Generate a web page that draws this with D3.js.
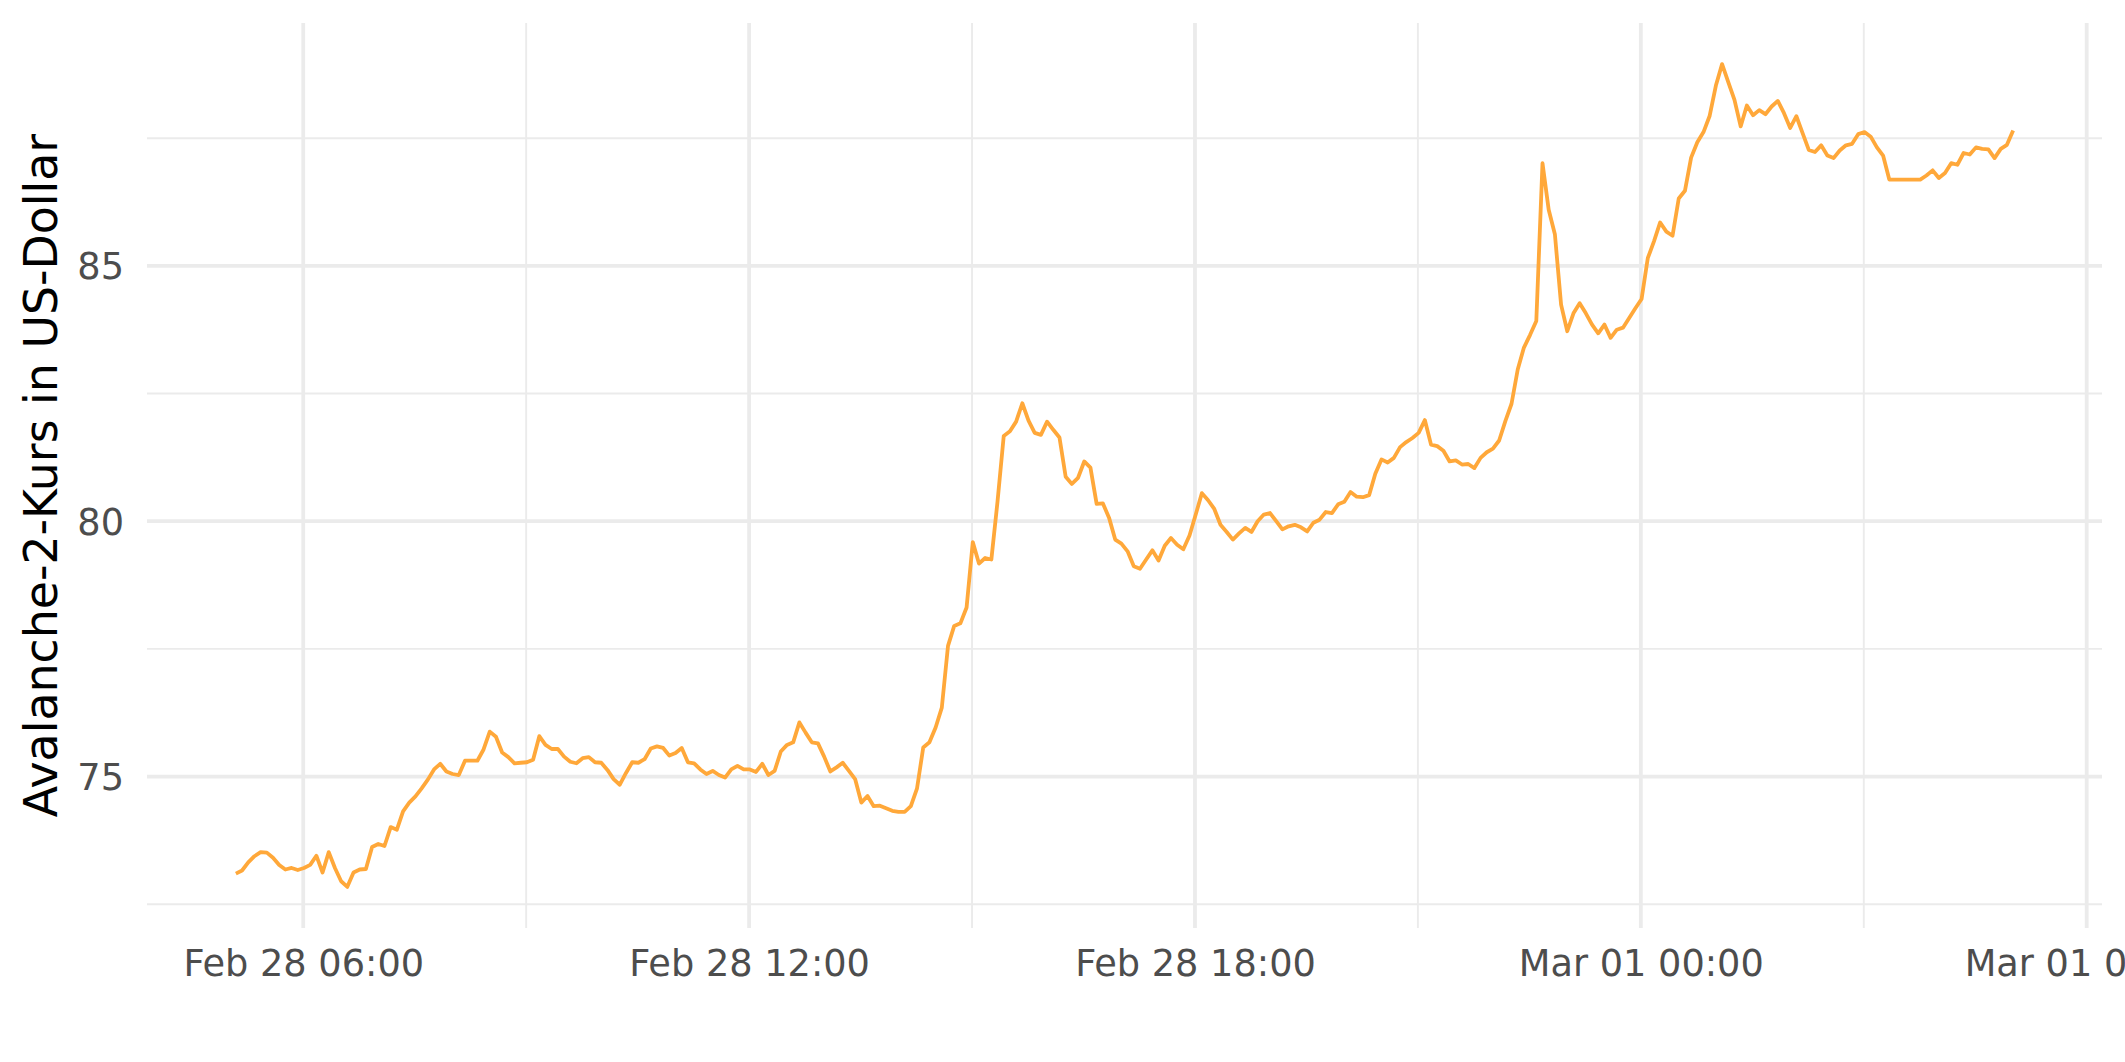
<!DOCTYPE html>
<html>
<head>
<meta charset="utf-8">
<script src="https://cdn.jsdelivr.net/npm/d3@7"></script>
<style>
  html, body { margin: 0; padding: 0; background: #ffffff; }
  svg { display: block; }
</style>
</head>
<body>
<svg id="chart" width="2125" height="1062"></svg>
<script>
// ---------------- data ----------------
const startTime = new Date(2022, 1, 28, 5, 5, 36);   // first observation (Feb 28, 05:05)
const stepMinutes = 5;                                // 5-minute price series
const prices = [
  73.10, 73.16, 73.32, 73.44, 73.52, 73.51, 73.41, 73.27, 73.18, 73.21,
  73.17, 73.21, 73.27, 73.45, 73.12, 73.52, 73.21, 72.95, 72.84, 73.12,
  73.18, 73.19, 73.62, 73.68, 73.64, 74.01, 73.96, 74.32, 74.49, 74.61,
  74.77, 74.94, 75.14, 75.25, 75.10, 75.05, 75.03, 75.31, 75.31, 75.31,
  75.53, 75.88, 75.78, 75.47, 75.38, 75.26, 75.27, 75.28, 75.33, 75.79,
  75.62, 75.54, 75.54, 75.39, 75.29, 75.26, 75.36, 75.38, 75.28, 75.27,
  75.13, 74.95, 74.84, 75.07, 75.28, 75.27, 75.34, 75.55, 75.59, 75.56,
  75.41, 75.46, 75.56, 75.28, 75.26, 75.14, 75.05, 75.11, 75.03, 74.98,
  75.14, 75.21, 75.14, 75.14, 75.09, 75.25, 75.03, 75.11, 75.49, 75.62,
  75.67, 76.06, 75.86, 75.67, 75.65, 75.39, 75.10, 75.18, 75.27, 75.11,
  74.95, 74.49, 74.62, 74.42, 74.43, 74.38, 74.33, 74.31, 74.31, 74.42,
  74.77, 75.57, 75.67, 75.96, 76.35, 77.56, 77.95, 78.00, 78.31, 79.59,
  79.17, 79.28, 79.25, 80.39, 81.67, 81.76, 81.95, 82.31, 81.97, 81.73,
  81.69, 81.95, 81.79, 81.64, 80.87, 80.73, 80.85, 81.17, 81.05, 80.34,
  80.35, 80.07, 79.64, 79.56, 79.41, 79.12, 79.07, 79.25, 79.43, 79.23,
  79.52, 79.67, 79.54, 79.45, 79.72, 80.13, 80.55, 80.41, 80.24, 79.93,
  79.79, 79.64, 79.76, 79.87, 79.79, 80.00, 80.13, 80.16, 80.00, 79.84,
  79.90, 79.93, 79.88, 79.80, 79.97, 80.03, 80.18, 80.16, 80.33, 80.38,
  80.57, 80.48, 80.47, 80.51, 80.93, 81.21, 81.15, 81.24, 81.45, 81.55,
  81.63, 81.73, 81.98, 81.50, 81.47, 81.38, 81.17, 81.19, 81.11, 81.12,
  81.04, 81.24, 81.35, 81.42, 81.58, 81.96, 82.30, 82.97, 83.40, 83.65,
  83.92, 87.01, 86.10, 85.62, 84.24, 83.72, 84.07, 84.27, 84.07, 83.85,
  83.68, 83.85, 83.59, 83.75, 83.79, 83.98, 84.17, 84.35, 85.15, 85.48,
  85.85, 85.67, 85.59, 86.32, 86.47, 87.12, 87.42, 87.62, 87.94, 88.53,
  88.95, 88.60, 88.25, 87.73, 88.14, 87.95, 88.05, 87.97, 88.12, 88.23,
  87.99, 87.70, 87.93, 87.60, 87.27, 87.23, 87.36, 87.16, 87.11, 87.26,
  87.36, 87.39, 87.58, 87.62, 87.53, 87.32, 87.16, 86.69, 86.69, 86.69,
  86.69, 86.69, 86.69, 86.77, 86.87, 86.72, 86.82, 87.01, 86.98, 87.21,
  87.18, 87.32, 87.29, 87.28, 87.11, 87.29, 87.37, 87.65
];
const yMajorTicks = [75, 80, 85];
const yMinorTicks = [72.5, 77.5, 82.5, 87.5];
const xMajorEveryHours = 6;
const xMinorEveryHours = 3;
const yAxisTitle = "Avalanche-2-Kurs in US-Dollar";

// ---------------- layout ----------------
const W = 2125, H = 1062;
const panel = { left: 147, right: 2102, top: 23, bottom: 928 };
const gridColor = "#EBEBEB";
const lineColor = "#FFA83A";
const font = "'DejaVu Sans', Verdana, sans-serif";

const data = prices.map((v, i) => ({
  t: new Date(startTime.getTime() + i * stepMinutes * 60000),
  v: v
}));

// ggplot-style 5% expansion
const tExt = d3.extent(data, d => d.t.getTime());
const tPad = (tExt[1] - tExt[0]) * 0.05;
const vExt = d3.extent(data, d => d.v);
const vPad = (vExt[1] - vExt[0]) * 0.05;

const x = d3.scaleTime()
  .domain([new Date(tExt[0] - tPad), new Date(tExt[1] + tPad)])
  .range([panel.left, panel.right]);
const y = d3.scaleLinear()
  .domain([vExt[0] - vPad, vExt[1] + vPad])
  .range([panel.bottom, panel.top]);

const svg = d3.select("#chart");
svg.append("rect").attr("width", W).attr("height", H).attr("fill", "#ffffff");

const xMajor = x.ticks(d3.timeHour.every(xMajorEveryHours));
const xMinor = x.ticks(d3.timeHour.every(xMinorEveryHours))
  .filter(t => !xMajor.some(m => m.getTime() === t.getTime()));

const grid = svg.append("g");
// minor grid
grid.selectAll("line.ymin").data(yMinorTicks).join("line")
  .attr("x1", panel.left).attr("x2", panel.right)
  .attr("y1", d => y(d)).attr("y2", d => y(d))
  .attr("stroke", gridColor).attr("stroke-width", 1.9);
grid.selectAll("line.xmin").data(xMinor).join("line")
  .attr("x1", d => x(d)).attr("x2", d => x(d))
  .attr("y1", panel.top).attr("y2", panel.bottom)
  .attr("stroke", gridColor).attr("stroke-width", 1.9);
// major grid
grid.selectAll("line.ymaj").data(yMajorTicks).join("line")
  .attr("x1", panel.left).attr("x2", panel.right)
  .attr("y1", d => y(d)).attr("y2", d => y(d))
  .attr("stroke", gridColor).attr("stroke-width", 3.8);
grid.selectAll("line.xmaj").data(xMajor).join("line")
  .attr("x1", d => x(d)).attr("x2", d => x(d))
  .attr("y1", panel.top).attr("y2", panel.bottom)
  .attr("stroke", gridColor).attr("stroke-width", 3.8);

// price line
const line = d3.line().x(d => x(d.t)).y(d => y(d.v));
svg.append("path")
  .datum(data)
  .attr("d", line)
  .attr("fill", "none")
  .attr("stroke", lineColor)
  .attr("stroke-width", 3.8)
  .attr("stroke-linejoin", "round")
  .attr("stroke-linecap", "butt");

// y axis labels (no ticks / domain, theme_minimal style)
const yAxis = d3.axisLeft(y).tickValues(yMajorTicks).tickSize(0).tickPadding(23);
const gy = svg.append("g").attr("transform", `translate(${panel.left},0)`).call(yAxis);
gy.select(".domain").remove();
gy.selectAll("text")
  .attr("font-family", font).attr("font-size", 36.7)
  .attr("fill", "#4D4D4D").attr("dy", "0.35em");

// x axis labels
const fmt = d3.timeFormat("%b %d %H:%M");
const xAxis = d3.axisBottom(x).tickValues(xMajor).tickFormat(fmt).tickSize(0).tickPadding(0);
const gx = svg.append("g").attr("transform", `translate(0,${panel.bottom})`).call(xAxis);
gx.select(".domain").remove();
gx.selectAll("text")
  .attr("font-family", font).attr("font-size", 36.7)
  .attr("fill", "#4D4D4D").attr("dy", null).attr("y", 48);

// y axis title
svg.append("text")
  .attr("transform", `translate(57,${(panel.top + panel.bottom) / 2}) rotate(-90)`)
  .attr("text-anchor", "middle")
  .attr("font-family", font).attr("font-size", 45.8)
  .attr("fill", "#000000")
  .text(yAxisTitle);
</script>
</body>
</html>
